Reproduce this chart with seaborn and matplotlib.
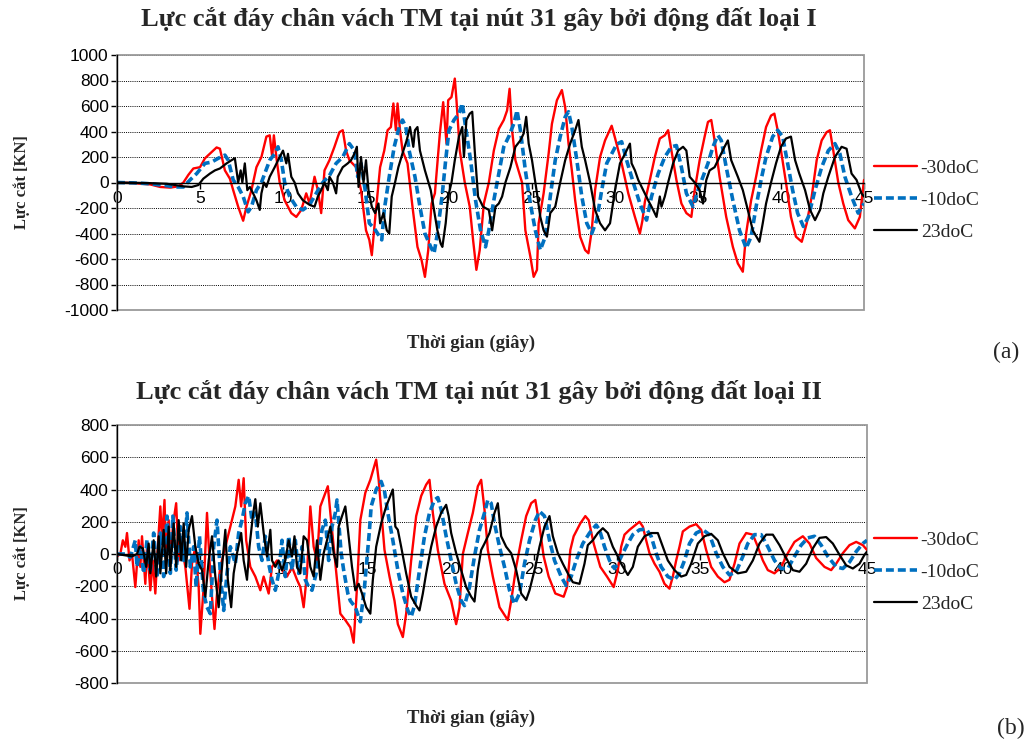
import numpy as np
import pandas as pd
import matplotlib
matplotlib.use("Agg")
import matplotlib.pyplot as plt
import seaborn as sns
from matplotlib.patches import Rectangle
from matplotlib.lines import Line2D

# ---------------- data ----------------
series_labels = ["-30doC", "-10doC", "23doC"]
xticks = [0, 5, 10, 15, 20, 25, 30, 35, 40, 45]

# (a) earthquake type I
a_t_m30 = [0, 1, 2, 2.6, 3.2, 3.7, 4.0, 4.3, 4.6, 5.0,
           5.3, 6.0, 6.2, 6.5, 6.8, 7.0, 7.3, 7.6, 7.8, 8.1,
           8.4, 8.7, 9.0, 9.2, 9.35, 9.45, 9.6, 9.8, 10.1, 10.5,
           10.8, 11.1, 11.4, 11.6, 11.9, 12.1, 12.3, 12.5, 12.8, 13.1,
           13.4, 13.6, 13.8, 14.0, 14.4, 14.7, 15.0, 15.2, 15.35, 15.6,
           15.85, 16.1, 16.3, 16.5, 16.65, 16.8, 16.9, 17.05, 17.2, 17.5,
           17.8, 18.1, 18.35, 18.55, 18.75, 18.95, 19.15, 19.45, 19.65, 19.85,
           19.95, 20.15, 20.35, 20.45, 20.65, 20.95, 21.25, 21.45, 21.65, 21.85,
           22.1, 22.4, 22.7, 23.0, 23.3, 23.5, 23.65, 23.8, 24.0, 24.4,
           24.6, 24.9, 25.1, 25.3, 25.4, 25.7, 26.0, 26.2, 26.5, 26.8,
           27.0, 27.2, 27.4, 27.6, 27.9, 28.2, 28.4, 28.6, 28.8, 29.1,
           29.4, 29.8, 30.0, 30.4, 30.8, 31.2, 31.5, 31.65, 31.8, 32.1,
           32.4, 32.7, 33.0, 33.2, 33.4, 33.7, 34.0, 34.3, 34.6, 34.8,
           35.1, 35.4, 35.6, 35.8, 36.0, 36.3, 36.7, 37.1, 37.4, 37.7,
           37.9, 38.2, 38.5, 38.8, 39.1, 39.4, 39.6, 39.8, 40.0, 40.3,
           40.6, 40.9, 41.25, 41.55, 41.85, 42.15, 42.45, 42.75, 42.95, 43.15,
           43.45, 43.75, 44.05, 44.45, 44.75, 45.0]
a_f_m30 = [0, -5, -15, -35, -40, -30, 0, 60, 110, 120,
           190, 275, 265, 95, 30, -60, -190, -300, -190, -60,
           120, 200, 360, 370, 200, 370, 200, 0, -140, -240,
           -270, -215, -85, -165, 45, -60, -240, 95, 175, 280,
           395, 410, 250, 175, 120, -60, -375, -450, -570, -215,
           120, 250, 410, 435, 620, 410, 620, 410, 250, 150,
           -190, -505, -610, -740, -530, -165, -85, 385, 630, 305,
           645, 670, 815, 645, 250, 0, -190, -450, -685, -530,
           -165, 0, 250, 420, 490, 565, 735, 410, 175, 0,
           -375, -580, -740, -685, -320, -85, 225, 460, 645, 725,
           590, 305, 95, -140, -425, -530, -555, -375, -60, 200,
           330, 445, 350, 150, -85, -270, -400, -300, -150, 20,
           200, 345, 370, 410, 250, 20, -165, -240, -270, -60,
           175, 360, 475, 490, 330, 45, -270, -505, -635, -700,
           -400, -140, 45, 250, 435, 525, 540, 410, 250, 0,
           -270, -425, -465, -320, -110, 175, 330, 395, 410, 250,
           0, -165, -295, -360, -270, 20]

a_t_m10 = [0, 1, 2, 3, 3.5, 4.0, 4.4, 4.8, 5.3, 5.7,
           6.1, 6.5, 6.7, 7.0, 7.3, 7.6, 7.9, 8.1, 8.4, 8.7,
           8.9, 9.2, 9.5, 9.7, 9.9, 10.1, 10.4, 10.8, 11.2, 11.6,
           12.0, 12.4, 12.8, 13.2, 13.6, 14.0, 14.3, 14.5, 14.7, 14.95,
           15.2, 15.5, 15.8, 15.95, 16.1, 16.4, 16.7, 17.0, 17.2, 17.4,
           17.6, 17.95, 18.25, 18.55, 18.9, 19.1, 19.3, 19.6, 19.8, 20.0,
           20.3, 20.6, 20.8, 21.0, 21.3, 21.6, 21.9, 22.2, 22.4, 22.7,
           23.0, 23.3, 23.6, 23.9, 24.1, 24.3, 24.6, 24.9, 25.2, 25.5,
           25.8, 26.1, 26.4, 26.7, 27.0, 27.2, 27.4, 27.7, 28.0, 28.3,
           28.6, 28.9, 29.2, 29.5, 29.9, 30.1, 30.4, 30.7, 31.1, 31.5,
           31.9, 32.2, 32.6, 33.0, 33.4, 33.7, 34.0, 34.3, 34.7, 35.0,
           35.3, 35.6, 35.9, 36.2, 36.4, 36.7, 37.1, 37.5, 37.9, 38.2,
           38.5, 38.8, 39.1, 39.5, 39.8, 40.1, 40.4, 40.7, 41.0, 41.35,
           41.65, 42.05, 42.45, 42.85, 43.25, 43.55, 43.85, 44.25, 44.65, 45.0]
a_f_m10 = [0, -3, -10, -25, -35, -35, 20, 70, 150, 160,
           190, 215, 175, 20, -35, -110, -230, -190, -60, 0,
           70, 175, 225, 280, 175, 0, -110, -190, -215, -175,
           -85, 0, 55, 150, 200, 305, 250, 45, 150, -60,
           -320, -360, -420, -450, -215, 45, 280, 435, 490, 435,
           250, 45, -190, -400, -505, -555, -400, -85, 175, 410,
           490, 540, 620, 435, 175, -140, -375, -505, -375, -140,
           70, 280, 360, 460, 565, 410, 95, -165, -375, -530,
           -425, -110, 175, 360, 515, 555, 435, 175, -110, -320,
           -400, -295, -60, 150, 250, 300, 320, 175, 0, -165,
           -295, -110, 70, 200, 280, 290, 120, -85, -190, -60,
           45, 150, 280, 370, 330, 120, -140, -375, -515, -425,
           -190, 20, 200, 360, 410, 360, 150, -60, -240, -345,
           -270, -60, 120, 250, 305, 225, 45, -110, -240, -165]

a_t_23 = [0, 1, 2, 3, 4, 4.5, 4.9, 5.2, 5.6, 5.9,
          6.2, 6.6, 6.9, 7.1, 7.2, 7.3, 7.45, 7.55, 7.7, 7.85,
          8.0, 8.2, 8.4, 8.6, 8.7, 8.85, 9.0, 9.2, 9.5, 9.8,
          10.0, 10.2, 10.3, 10.5, 10.7, 10.9, 11.2, 11.6, 11.9, 12.1,
          12.3, 12.5, 12.7, 12.8, 13.0, 13.2, 13.3, 13.6, 13.9, 14.1,
          14.3, 14.45, 14.55, 14.7, 14.85, 15.0, 15.15, 15.35, 15.55, 15.75,
          15.85, 16.05, 16.25, 16.4, 16.55, 16.75, 16.95, 17.25, 17.45, 17.65,
          17.85, 17.95, 18.1, 18.25, 18.55, 18.9, 19.1, 19.3, 19.5, 19.6,
          19.8, 19.95, 20.15, 20.35, 20.6, 20.8, 20.9, 21.05, 21.25, 21.4,
          21.55, 21.75, 22.05, 22.4, 22.6, 22.8, 23.0, 23.2, 23.4, 23.7,
          24.0, 24.3, 24.5, 24.65, 24.8, 25.0, 25.3, 25.5, 25.7, 25.9,
          26.1, 26.4, 26.7, 27.0, 27.3, 27.6, 27.8, 28.0, 28.2, 28.5,
          28.8, 29.1, 29.4, 29.7, 30.0, 30.3, 30.6, 30.9, 31.0, 31.2,
          31.4, 31.7, 32.0, 32.3, 32.5, 32.7, 32.8, 33.0, 33.2, 33.5,
          33.8, 34.1, 34.3, 34.5, 34.8, 35.1, 35.3, 35.5, 35.7, 36.0,
          36.3, 36.6, 36.8, 37.0, 37.4, 37.7, 38.0, 38.3, 38.7, 38.9,
          39.1, 39.4, 39.7, 40.0, 40.3, 40.6, 40.85, 41.1, 41.45, 41.75,
          42.05, 42.35, 42.55, 42.85, 43.25, 43.65, 43.95, 44.25, 44.55, 44.85,
          45.0]
a_f_23 = [0, -2, -5, -10, -30, -35, -20, 30, 70, 95,
          110, 150, 175, 190, 95, 0, 95, 0, 150, -60,
          -35, -85, -140, -215, -85, 0, -35, 45, 120, 200,
          250, 150, 225, 45, 0, -85, -140, -175, -190, -110,
          -60, 0, -60, 45, 0, -85, 45, 120, 150, 175,
          225, 280, -35, 200, 0, 175, -60, -190, -240, -165,
          -320, -240, -375, -400, -110, 0, 120, 250, 330, 435,
          280, 410, 435, 250, 95, -60, -215, -375, -480, -505,
          -320, -110, 0, 175, 360, 435, 200, 490, 540, 555,
          250, -110, -190, -215, -375, -190, -165, -110, 0, 120,
          280, 330, 385, 515, 305, 175, -85, -270, -375, -425,
          -240, -190, 0, 175, 305, 410, 490, 280, 175, 0,
          -215, -320, -375, -320, -60, 150, 225, 305, 150, 95,
          20, -60, -140, -215, -270, -110, -190, -110, 0, 150,
          250, 280, 250, 45, 0, -60, -165, 20, 95, 120,
          200, 280, 330, 175, 45, -60, -215, -375, -465, -320,
          -165, 0, 150, 280, 345, 360, 175, 70, -60, -215,
          -295, -215, -85, 45, 200, 280, 265, 70, 20, -85,
          -110]

# (b) earthquake type II
b_t_m30 = [0, 0.2, 0.35, 0.5, 0.6, 0.75, 0.9, 1.1, 1.3, 1.4,
           1.5, 1.7, 1.8, 2.0, 2.15, 2.3, 2.45, 2.6, 2.7, 2.85,
           2.95, 3.1, 3.2, 3.4, 3.55, 3.7, 3.9, 4.1, 4.35, 4.5,
           4.7, 4.9, 5.0, 5.2, 5.4, 5.55, 5.7, 5.85, 6.0, 6.2,
           6.5, 6.8, 7.1, 7.3, 7.45, 7.6, 7.75, 8.0, 8.3, 8.6,
           8.8, 9.1, 9.3, 9.6, 9.9, 10.2, 10.5, 10.8, 11.0, 11.2,
           11.4, 11.6, 11.8, 12.0, 12.2, 12.4, 12.65, 12.8, 13.0, 13.2,
           13.4, 13.7, 14.0, 14.2, 14.4, 14.6, 14.9, 15.2, 15.55, 15.7,
           15.85, 16.05, 16.35, 16.65, 16.85, 17.15, 17.35, 17.65, 17.95, 18.25,
           18.55, 18.75, 18.95, 19.25, 19.65, 20.05, 20.35, 20.55, 20.75, 21.05,
           21.35, 21.65, 21.85, 22.05, 22.25, 22.55, 22.95, 23.45, 23.65, 23.95,
           24.25, 24.55, 24.85, 25.1, 25.3, 25.6, 25.9, 26.3, 26.8, 27.0,
           27.2, 27.4, 27.8, 28.1, 28.3, 28.6, 29.0, 29.4, 29.8, 30.05,
           30.25, 30.45, 30.75, 31.05, 31.35, 31.55, 31.75, 31.95, 32.25, 32.55,
           32.85, 33.15, 33.35, 33.55, 33.75, 33.95, 34.35, 34.75, 35.05, 35.35,
           35.65, 36.05, 36.45, 36.75, 37.05, 37.35, 37.75, 38.15, 38.45, 38.75,
           39.05, 39.45, 39.85, 40.25, 40.65, 41.15, 41.55, 41.95, 42.45, 42.85,
           43.15, 43.55, 43.95, 44.35, 44.75, 45.0]
b_f_m30 = [-15, 0, 85, 45, 130, -40, 0, -205, 85, -80,
           110, -185, 45, -225, -40, -245, 45, 295, 85, 335,
           -40, 210, 0, 210, 315, -40, 45, -80, -340, -60,
           45, -205, -495, -205, 255, -40, -265, -465, -245, -80,
           45, 170, 295, 460, 295, 470, 85, -80, -140, -225,
           -140, -245, -80, -40, -100, -140, -80, -160, -205, -330,
           -120, 295, 45, -40, 295, 350, 420, 255, 45, -160,
           -370, -410, -455, -550, -205, 210, 380, 460, 585, 460,
           275, 25, -140, -290, -435, -515, -370, -40, 235, 360,
           430, 460, 255, 25, -185, -290, -435, -330, 0, 130,
           255, 420, 460, 275, 25, -140, -330, -410, -290, -80,
           85, 235, 315, 335, 210, -15, -140, -245, -265, -205,
           25, 110, 190, 235, 210, 65, -80, -140, -205, -100,
           45, 120, 150, 175, 200, 170, 85, 5, -60, -110,
           -185, -215, -140, -40, 45, 140, 170, 185, 150, 25,
           -80, -140, -175, -160, -60, 65, 130, 120, 45, -40,
           -100, -120, -80, 5, 75, 110, 65, -25, -80, -100,
           -60, 5, 55, 75, 55, 25]

b_t_m10 = [0, 0.5, 0.8, 1.1, 1.2, 1.4, 1.6, 1.8, 2.0, 2.2,
           2.4, 2.6, 2.8, 3.0, 3.2, 3.35, 3.55, 3.8, 4.0, 4.2,
           4.4, 4.6, 4.75, 4.95, 5.2, 5.4, 5.6, 5.8, 6.0, 6.2,
           6.4, 6.6, 6.8, 7.1, 7.3, 7.5, 7.7, 7.9, 8.1, 8.3,
           8.5, 8.7, 8.9, 9.1, 9.3, 9.5, 9.7, 9.9, 10.1, 10.3,
           10.5, 10.7, 10.9, 11.1, 11.3, 11.5, 11.7, 11.95, 12.1, 12.3,
           12.5, 12.7, 12.9, 13.1, 13.2, 13.45, 13.6, 13.85, 14.0, 14.3,
           14.6, 14.85, 15.15, 15.25, 15.55, 15.85, 16.05, 16.25, 16.55, 16.85,
           17.15, 17.45, 17.65, 17.85, 18.15, 18.45, 18.75, 19.05, 19.25, 19.45,
           19.75, 20.05, 20.35, 20.65, 20.85, 21.15, 21.45, 21.75, 22.05, 22.25,
           22.45, 22.65, 22.95, 23.25, 23.55, 23.85, 24.15, 24.45, 24.75, 25.1,
           25.35, 25.65, 25.95, 26.25, 26.65, 26.95, 27.25, 27.55, 27.95, 28.35,
           28.75, 28.95, 29.25, 29.55, 29.85, 30.05, 30.35, 30.65, 30.95, 31.35,
           31.75, 32.05, 32.35, 32.65, 33.05, 33.45, 33.75, 34.05, 34.35, 34.75,
           35.15, 35.55, 35.95, 36.35, 36.75, 37.15, 37.55, 37.85, 38.25, 38.65,
           39.05, 39.45, 39.85, 40.25, 40.65, 41.05, 41.45, 41.85, 42.25, 42.65,
           43.15, 43.55, 43.95, 44.35, 44.75, 45.0]
b_f_m10 = [0, 0, -20, 85, -80, 45, -120, 85, -100, 130,
           -140, 130, -140, 235, -120, 235, -100, 170, -40, 255,
           -80, 45, -205, 110, -245, -330, -370, 45, 210, -120,
           -350, -120, 45, -60, 130, 210, 315, 360, 210, 255,
           45, -40, 110, -60, -160, -225, -120, 85, -140, 110,
           -100, 85, -120, 45, -160, -205, -225, -120, -15, 150,
           210, -40, 170, 255, 335, 5, -100, -245, -290, -330,
           -420, -205, 150, 295, 400, 450, 390, 255, 85, -100,
           -245, -350, -390, -320, -100, 110, 255, 335, 350, 275,
           110, -40, -185, -290, -320, -205, -15, 150, 255, 335,
           315, 190, 45, -80, -225, -310, -245, -60, 85, 210,
           265, 235, 85, -40, -140, -195, -140, -40, 65, 130,
           180, 150, 45, -40, -90, -60, 5, 65, 120, 150,
           155, 110, 5, -80, -140, -160, -120, -40, 65, 130,
           150, 120, 5, -80, -130, -110, -15, 65, 120, 120,
           45, -40, -90, -90, -15, 55, 100, 110, 55, -15,
           -80, -90, -50, 15, 65, 85]

b_t_23 = [0, 0.9, 1.2, 1.35, 1.55, 1.75, 1.9, 2.0, 2.2, 2.35,
          2.5, 2.6, 2.8, 2.95, 3.1, 3.2, 3.4, 3.55, 3.7, 3.85,
          4.0, 4.15, 4.3, 4.5, 4.7, 4.9, 5.1, 5.3, 5.5, 5.7,
          5.9, 6.1, 6.3, 6.5, 6.65, 6.85, 7.0, 7.2, 7.45, 7.6,
          7.8, 7.95, 8.15, 8.3, 8.45, 8.6, 8.8, 9.0, 9.2, 9.3,
          9.5, 9.7, 9.9, 10.1, 10.3, 10.5, 10.65, 10.8, 11.0, 11.2,
          11.4, 11.6, 11.8, 12.0, 12.2, 12.4, 12.6, 12.8, 13.0, 13.2,
          13.3, 13.5, 13.7, 13.9, 14.1, 14.3, 14.5, 14.7, 14.95, 15.2,
          15.35, 15.55, 15.85, 16.15, 16.4, 16.55, 16.7, 16.85, 17.05, 17.35,
          17.65, 17.95, 18.15, 18.35, 18.55, 18.85, 19.15, 19.45, 19.75, 19.9,
          20.05, 20.35, 20.65, 20.95, 21.25, 21.45, 21.65, 21.85, 22.05, 22.35,
          22.65, 22.85, 23.05, 23.35, 23.65, 23.95, 24.25, 24.55, 24.75, 25.1,
          25.35, 25.65, 25.95, 26.15, 26.45, 26.75, 27.05, 27.35, 27.75, 28.05,
          28.25, 28.55, 28.85, 29.15, 29.45, 29.75, 30.05, 30.25, 30.65, 30.95,
          31.25, 31.65, 32.05, 32.45, 32.75, 33.05, 33.45, 33.85, 34.15, 34.45,
          34.85, 35.25, 35.65, 36.05, 36.35, 36.75, 37.25, 37.75, 38.15, 38.55,
          38.95, 39.35, 39.75, 40.15, 40.55, 40.95, 41.35, 41.75, 42.15, 42.55,
          42.95, 43.35, 43.75, 44.15, 44.55, 44.85, 45.0]
b_f_23 = [0, -15, 0, 45, 35, -80, 65, -120, 85, -140,
          110, -120, 150, -120, 170, -100, 190, -80, 210, -40,
          190, -80, 150, 235, 45, -60, -100, -265, -40, 110,
          -140, -330, -80, 150, -160, -330, -120, 5, 130, -40,
          -160, 45, 235, 340, 170, 315, 130, -15, 150, -40,
          -80, -40, -100, -40, 85, -15, 110, -80, -120, 110,
          85, -80, -140, 85, -160, 5, 85, 170, 5, -80,
          170, 235, 295, 110, -80, -225, -185, -245, -330, -370,
          -160, 45, 190, 295, 360, 400, 170, 150, 45, -120,
          -265, -320, -350, -245, -120, 45, 170, 255, 305, 235,
          130, 5, -100, -205, -265, -295, -100, 25, 65, 130,
          255, 315, 110, 45, 5, -100, -245, -285, -225, -80,
          45, 170, 235, 110, 5, -60, -120, -175, -185, -60,
          55, 85, 130, 160, 130, 45, -15, -60, -130, -80,
          45, 110, 130, 130, 45, -40, -100, -140, -130, -60,
          65, 110, 125, 85, 5, -80, -120, -110, -40, 65,
          120, 120, 55, -25, -100, -110, -60, 35, 100, 105,
          65, -5, -70, -90, -60, -5, 15]

# ---------------- figure ----------------
sns.set_theme(style="white")
plt.rcParams["font.family"] = ["Liberation Sans", "DejaVu Sans"]
plt.rcParams["axes.unicode_minus"] = False
SERIF = ["Liberation Serif", "DejaVu Serif"]

W, H = 1029, 743
fig = plt.figure(figsize=(W / 100, H / 100), dpi=100)
ax1 = fig.add_axes([117 / W, 1 - 310 / H, (864 - 117) / W, (310 - 55) / H])
ax2 = fig.add_axes([117 / W, 1 - 683 / H, (867 - 117) / W, (683 - 425) / H])

RED, BLUE, BLACK = "#ff0000", "#0070c0", "#000000"
styles = [dict(color=RED, lw=1.7, ls="-"),
          dict(color=BLUE, lw=2.6, ls=(0, (2.2, 1.1))),
          dict(color=BLACK, lw=1.6, ls="-")]


def draw(ax, ts, fs, ylim):
    for t, f, st in zip(ts, fs, styles):
        assert len(t) == len(f)
        sns.lineplot(x=t, y=f, ax=ax, color=st["color"], linewidth=st["lw"],
                     linestyle=st["ls"], estimator=None, sort=False)
    ax.set_xlim(0, 45)
    ax.set_ylim(*ylim)
    ax.set_yticks(np.arange(ylim[0], ylim[1] + 1, 200))
    ax.set_xticks(xticks)
    ax.yaxis.grid(True, color="black", linestyle=(0, (1, 1.2)), linewidth=0.7)
    ax.xaxis.grid(False)
    ax.set_axisbelow(True)
    for s in ["top", "right"]:
        ax.spines[s].set_visible(False)
    ax.spines["bottom"].set_position(("data", 0))
    ax.spines["bottom"].set_color("black")
    ax.spines["bottom"].set_linewidth(1.0)
    ax.spines["left"].set_color("black")
    ax.spines["left"].set_linewidth(1.0)
    ax.add_patch(Rectangle((0, 0), 1, 1, transform=ax.transAxes, fill=False,
                           edgecolor="#9a9a9a", linewidth=1.3, clip_on=False, zorder=0.6))
    ax.tick_params(axis="both", direction="out", length=4, width=1, colors="black",
                   labelsize=12.5, pad=2, left=True, bottom=True)
    ax.set_xlabel("")
    ax.set_ylabel("")


draw(ax1, [a_t_m30, a_t_m10, a_t_23], [a_f_m30, a_f_m10, a_f_23], (-1000, 1000))
draw(ax2, [b_t_m30, b_t_m10, b_t_23], [b_f_m30, b_f_m10, b_f_23], (-800, 800))

handles = [Line2D([], [], color=s["color"], lw=s["lw"], ls=s["ls"]) for s in styles]
for yc in (200, 572):
    fig.legend(handles, series_labels, loc="center left",
               bbox_to_anchor=(874 / W, 1 - yc / H), frameon=False,
               prop=dict(family=SERIF, size=14), handlelength=2.2,
               handletextpad=0.2, labelspacing=0.75, borderpad=0, borderaxespad=0)

t1 = "Lực cắt đáy chân vách TM tại nút 31 gây bởi động đất loại I"
t2 = "Lực cắt đáy chân vách TM tại nút 31 gây bởi động đất loại II"
fig.text(479 / W, 1 - 19 / H, t1, ha="center", va="center", fontsize=19,
         fontweight="bold", family=SERIF)
fig.text(479 / W, 1 - 392 / H, t2, ha="center", va="center", fontsize=19,
         fontweight="bold", family=SERIF)
for yc in (182, 553):
    fig.text(22 / W, 1 - yc / H, "Lực cắt [KN]", rotation=90, ha="center", va="center",
             fontsize=12, fontweight="bold", family=SERIF)
for yc in (343, 718):
    fig.text(471 / W, 1 - yc / H, "Thời gian (giây)", ha="center", va="center",
             fontsize=13.5, fontweight="bold", family=SERIF)
fig.text(1006 / W, 1 - 352 / H, "(a)", ha="center", va="center", fontsize=17, family=SERIF)
fig.text(1011 / W, 1 - 728 / H, "(b)", ha="center", va="center", fontsize=17, family=SERIF)

fig.savefig("out.png", dpi=100)
